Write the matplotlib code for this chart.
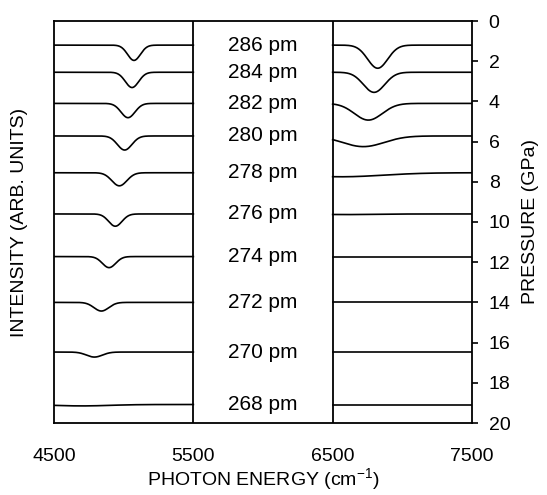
import numpy as np
import matplotlib
matplotlib.use("Agg")
import matplotlib.pyplot as plt

plt.rcParams['font.family'] = ['Liberation Sans', 'DejaVu Sans']

labels = ["286 pm", "284 pm", "282 pm", "280 pm", "278 pm",
          "276 pm", "274 pm", "272 pm", "270 pm", "268 pm"]
baseline = [1.2, 2.55, 4.1, 5.72, 7.55, 9.6, 11.72, 14.0, 16.47, 19.08]

# left band (dip parameters)
left_center = [5074, 5060, 5031, 5007, 4969, 4940, 4895, 4840, 4790, 4700]
left_depth = [0.76, 0.76, 0.71, 0.70, 0.65, 0.61, 0.55, 0.43, 0.25, 0.07]
left_width = [46, 48, 50, 52, 54, 48, 48, 53, 57, 200]

# right band
right_center = [6823, 6797, 6756, 6720, 6560, 6600, 6700, 6700, 6700, 6700]
right_depth = [1.15, 1.00, 0.83, 0.53, 0.20, 0.03, 0.0, 0.0, 0.0, 0.0]
right_width = [72, 77, 100, 150, 300, 200, 100, 100, 100, 100]

x_ticks = [4500, 5500, 6500, 7500]
p_ticks = [0, 2, 4, 6, 8, 10, 12, 14, 16, 18, 20]

fig = plt.figure(figsize=(5.47, 4.95), dpi=100)
ax = fig.add_axes([54/547, 1-423/495, (472-54)/547, (423-21)/495])

xl = np.linspace(4500, 5500, 400)
xr = np.linspace(6500, 7500, 400)
for i in range(len(labels)):
    yl = baseline[i] + left_depth[i]*np.exp(-(xl-left_center[i])**2/(2*left_width[i]**2))
    yr = baseline[i] + right_depth[i]*np.exp(-(xr-right_center[i])**2/(2*right_width[i]**2))
    ax.plot(xl, yl, color='black', lw=1.2)
    ax.plot(xr, yr, color='black', lw=1.2)
    ax.text(6000, baseline[i], labels[i], ha='center', va='center', fontsize=15)

ax.axvline(5500, color='black', lw=1.3)
ax.axvline(6500, color='black', lw=1.3)

ax.set_xlim(4500, 7500)
ax.set_ylim(20, 0)
ax.set_xticks(x_ticks)
ax.set_yticks(p_ticks)
ax.yaxis.tick_right()
ax.yaxis.set_label_position('right')
ax.tick_params(axis='x', length=0, pad=18, labelsize=14)
ax.tick_params(axis='y', direction='out', length=4, width=1.2, pad=8, labelsize=14)
for s in ax.spines.values():
    s.set_linewidth(1.3)

ax.set_xlabel("PHOTON ENERGY (cm$^{\\mathregular{-1}}$)", fontsize=14, labelpad=1)
ax.set_ylabel("PRESSURE (GPa)", fontsize=14, labelpad=8)
fig.text(20/547, 1-222/495, "INTENSITY (ARB. UNITS)", rotation=90,
         ha='center', va='center', fontsize=14)

fig.savefig("out.png", dpi=100)
